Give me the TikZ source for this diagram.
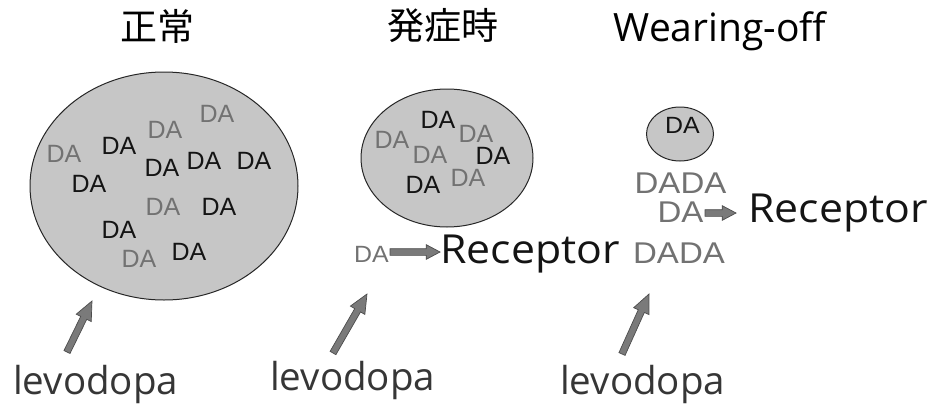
\documentclass[tikz,border=0pt]{standalone}
\usepackage{fontspec}
\setmainfont{Open Sans}
\newfontfamily\jpfont{Noto Sans CJK JP}
\newfontfamily\dafont{Liberation Sans}
\usetikzlibrary{shapes.arrows,shapes.geometric,calc}
\definecolor{ellfill}{HTML}{C6C6C6}
\definecolor{dagrey}{HTML}{727272}
\definecolor{arrfill}{HTML}{7A7A7A}
\definecolor{lvcol}{HTML}{363636}
\newcommand{\fatarrow}[3]{%
  \path let \p1=(#2), \p2=(#3), \n1={atan2(\y2-\y1,\x2-\x1)}, \n2={veclen(\x2-\x1,\y2-\y1)} in
    node[#1, rotate=\n1, minimum height=\n2] at (\p1) {};}
\begin{document}
\begin{tikzpicture}[x=1pt,y=-1pt,
  ell/.style={ellipse, draw=black!85, line width=1pt, fill=ellfill, inner sep=0pt},
  bigda/.style={inner sep=0pt, font=\dafont\fontsize{25}{25}\selectfont},
  dk/.style={bigda, text=black!92},
  lt/.style={bigda, text=dagrey},
  smda/.style={inner sep=0pt, font=\dafont\fontsize{23.5}{23.5}\selectfont, xscale=1.06},
  midda/.style={inner sep=0pt, font=\dafont\fontsize{30}{30}\selectfont, xscale=1.1, text=dagrey},
  title/.style={inner sep=0pt, text=black},
  recep/.style={inner sep=0pt, anchor=base west, font=\fontsize{40}{40}\selectfont, xscale=1.07, text=black!92},
  levo/.style={inner sep=0pt, anchor=base west, font=\fontsize{38.5}{38.5}\selectfont, text=lvcol},
  fatarr/.style={single arrow, draw=black!70, fill=arrfill, line width=0.7pt,
    inner xsep=0pt, inner ysep=3pt, single arrow head extend=5pt,
    single arrow tip angle=48, single arrow head indent=0pt,
    minimum width=0pt, anchor=tail, outer sep=0pt},
  thinarr/.style={fatarr, inner ysep=3pt, single arrow head extend=4pt, single arrow tip angle=56}
]
\useasboundingbox (0,0) rectangle (934,407);

% titles
\node[title, font=\jpfont\fontsize{37}{37}\selectfont] (t1) at (157,26) {正常};
\node[title, font=\jpfont\fontsize{37}{37}\selectfont] (t2) at (443,26) {発症時};
\node[title, anchor=base, font=\fontsize{39}{39}\selectfont] (t3) at (720,41) {Wearing-off};

% ellipses
\node[ell, minimum width=268pt, minimum height=228pt] (e1) at (164,186) {};
\node[ell, minimum width=172pt, minimum height=138pt] (e2) at (447,158) {};
\node[ell, minimum width=67pt, minimum height=54pt] (e3) at (680,134) {};

% DA in ellipse 1
\node[lt] (a1) at (217,114) {DA};
\node[lt] (a2) at (165,130) {DA};
\node[lt] (a3) at (64,154) {DA};
\node[dk] (a4) at (119,146) {DA};
\node[dk] (a5) at (162,168) {DA};
\node[dk] (a6) at (204,161) {DA};
\node[dk] (a7) at (254,161) {DA};
\node[dk] (a8) at (89,184) {DA};
\node[lt] (a9) at (163,207) {DA};
\node[dk] (a10) at (219,207) {DA};
\node[dk] (a11) at (119,230) {DA};
\node[lt] (a12) at (139,259) {DA};
\node[dk] (a13) at (189,252) {DA};

% DA in ellipse 2
\node[dk] (b1) at (438,120) {DA};
\node[lt] (b2) at (476,134) {DA};
\node[lt] (b3) at (392,140) {DA};
\node[lt] (b4) at (430,155) {DA};
\node[dk] (b5) at (493,156) {DA};
\node[dk] (b6) at (423,185) {DA};
\node[lt] (b7) at (468,178) {DA};

% DA in ellipse 3
\node[smda, text=black!92] (c1) at (682.5,125.5) {DA};

% middle receptor
\node[smda, text=dagrey] (md) at (371.5,254.5) {DA};
\node[recep] (r1) at (440,263) {Receptor};
\coordinate (m1) at (390,252);
\coordinate (m2) at (440,252);
\fatarrow{thinarr}{m1}{m2}

% right column
\node[midda] (d1) at (680.5,183.5) {DADA};
\node[midda] (d2) at (680.5,212) {DA};
\node[midda] (d3) at (679,253.5) {DADA};
\node[recep] (r2) at (748,222) {Receptor};
\coordinate (n1) at (705,213);
\coordinate (n2) at (736,213);
\fatarrow{thinarr}{n1}{n2}

% levodopa
\node[levo] (l1) at (13,394) {levodopa};
\node[levo] (l2) at (270,390) {levodopa};
\node[levo] (l3) at (560,394) {levodopa};
\coordinate (p1) at (67,352);
\coordinate (q1) at (92,301);
\coordinate (p2) at (333,353);
\coordinate (q2) at (367,294);
\coordinate (p3) at (622,354);
\coordinate (q3) at (649,294);
\fatarrow{fatarr}{p1}{q1}
\fatarrow{fatarr}{p2}{q2}
\fatarrow{fatarr}{p3}{q3}
\end{tikzpicture}
\end{document}
